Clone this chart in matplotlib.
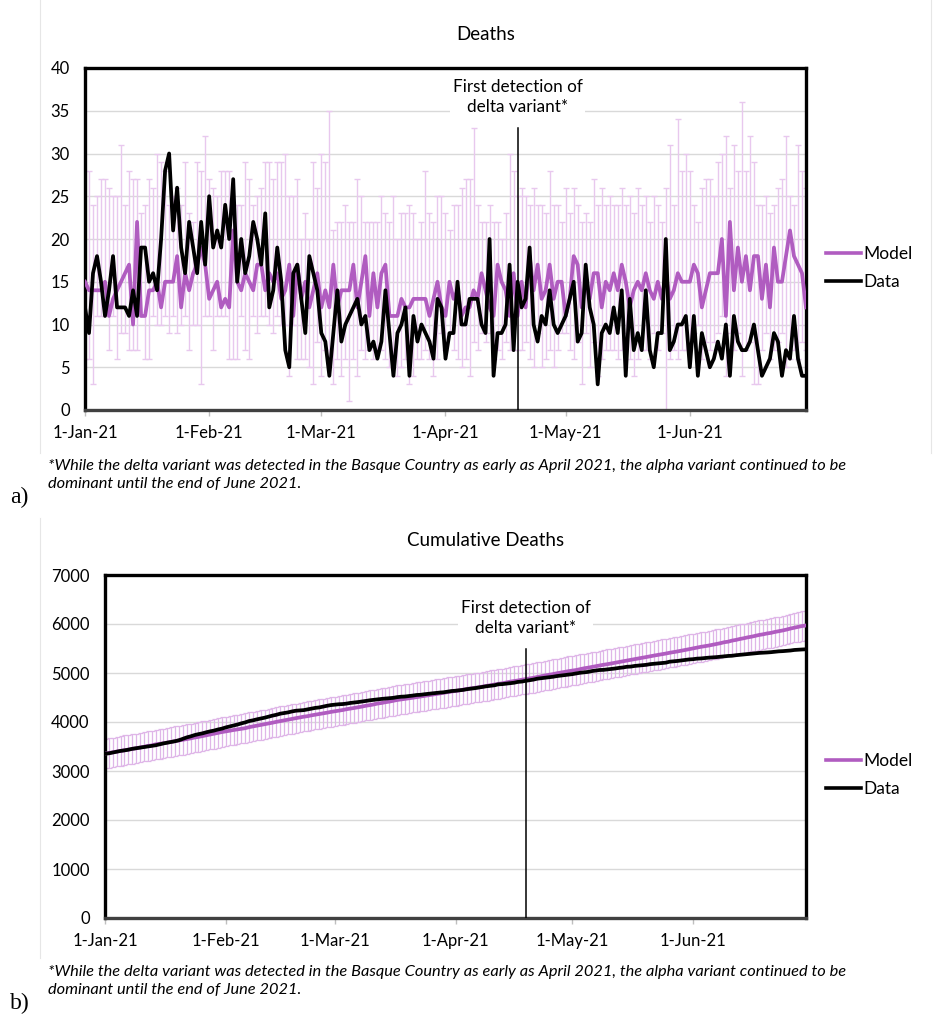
import numpy as np
import pandas as pd
import matplotlib
matplotlib.use("Agg")
import matplotlib.pyplot as plt
import matplotlib.dates as mdates
from matplotlib.lines import Line2D

plt.rcParams["font.family"] = ["Lato", "DejaVu Sans"]

# daily deaths, 1-Jan-21 .. 30-Jun-21
DATES = pd.date_range("2021-01-01", "2021-06-30", freq="D")

DATA = [
    12, 9, 16, 18, 15, 11, 14, 18, 12, 12,
    12, 11, 14, 11, 19, 19, 15, 16, 14, 20,
    28, 30, 21, 26, 19, 16, 22, 19, 16, 22,
    17, 25, 19, 21, 19, 24, 20, 27, 15, 20,
    16, 18, 22, 20, 17, 23, 12, 14, 19, 15,
    7, 5, 16, 17, 13, 9, 18, 16, 14, 9,
    8, 4, 9, 14, 8, 10, 11, 12, 13, 10,
    11, 7, 8, 6, 8, 14, 9, 4, 9, 10,
    12, 4, 11, 8, 10, 9, 8, 6, 13, 12,
    6, 9, 9, 15, 10, 10, 13, 13, 13, 10,
    9, 20, 4, 9, 9, 10, 17, 7, 15, 12,
    13, 19, 10, 8, 11, 10, 14, 10, 9, 10,
    11, 13, 15, 8, 9, 17, 12, 10, 3, 9,
    10, 9, 12, 9, 14, 4, 13, 7, 9, 7,
    14, 7, 5, 9, 9, 20, 7, 8, 10, 10,
    11, 5, 11, 4, 9, 7, 5, 6, 8, 6,
    10, 4, 11, 8, 7, 7, 8, 10, 7, 4,
    5, 6, 9, 8, 4, 7, 6, 11, 6, 4, 4,
]

MODEL = [
    15, 14, 14, 14, 14, 15, 11, 13, 14, 15,
    16, 17, 10, 22, 11, 11, 14, 14, 15, 12,
    15, 15, 15, 18, 12, 16, 14, 16, 17, 19,
    17, 13, 14, 15, 12, 13, 12, 21, 15, 14,
    16, 15, 14, 17, 17, 14, 16, 15, 16, 13,
    14, 17, 11, 17, 13, 15, 12, 14, 16, 12,
    14, 12, 17, 12, 14, 14, 14, 17, 12, 15,
    18, 11, 16, 12, 16, 17, 11, 11, 11, 13,
    12, 12, 13, 13, 13, 13, 11, 13, 15, 12,
    11, 15, 13, 14, 11, 12, 12, 14, 13, 16,
    14, 12, 11, 17, 15, 14, 11, 16, 11, 15,
    12, 18, 14, 17, 13, 14, 17, 13, 15, 15,
    11, 13, 18, 17, 12, 15, 13, 16, 16, 12,
    15, 14, 16, 14, 17, 15, 12, 14, 15, 14,
    16, 14, 13, 15, 13, 16, 13, 14, 16, 15,
    15, 15, 17, 16, 12, 14, 16, 16, 16, 20,
    11, 22, 14, 19, 15, 18, 14, 18, 18, 13,
    17, 12, 19, 15, 15, 18, 21, 18, 17, 16, 12,
]

MODEL_HI = [
    28, 28, 24, 25, 27, 27, 26, 25, 25, 31,
    24, 28, 27, 27, 23, 24, 27, 26, 30, 29,
    28, 24, 25, 26, 24, 29, 23, 22, 29, 28,
    32, 27, 26, 25, 28, 28, 28, 24, 24, 24,
    29, 27, 24, 25, 26, 29, 29, 27, 29, 29,
    30, 25, 25, 27, 20, 23, 20, 29, 26, 30,
    29, 35, 21, 22, 22, 24, 22, 22, 27, 25,
    22, 22, 22, 22, 25, 23, 22, 25, 20, 23,
    23, 24, 23, 20, 22, 28, 23, 22, 25, 25,
    23, 21, 24, 24, 26, 27, 27, 33, 24, 22,
    22, 24, 22, 22, 20, 23, 30, 28, 25, 26,
    25, 24, 26, 24, 24, 23, 28, 24, 24, 22,
    26, 23, 26, 24, 22, 23, 22, 27, 24, 26,
    24, 25, 24, 24, 26, 24, 25, 23, 26, 24,
    25, 22, 25, 24, 22, 26, 31, 24, 34, 28,
    30, 28, 24, 22, 26, 27, 27, 25, 29, 30,
    32, 26, 31, 28, 36, 28, 32, 29, 24, 24,
    25, 23, 24, 26, 27, 32, 25, 24, 31, 28, 26,
]

MODEL_LO = [
    6, 6, 3, 11, 11, 11, 7, 11, 6, 9,
    9, 7, 7, 7, 11, 6, 6, 11, 10, 10,
    11, 9, 11, 9, 10, 11, 7, 10, 10, 3,
    11, 11, 7, 11, 11, 11, 6, 6, 6, 11,
    7, 6, 11, 9, 11, 11, 10, 9, 11, 10,
    10, 4, 10, 6, 6, 6, 5, 3, 8, 4,
    7, 6, 3, 6, 4, 6, 1, 6, 4, 7,
    6, 7, 6, 7, 7, 6, 5, 6, 4, 5,
    6, 3, 4, 6, 6, 7, 6, 4, 6, 9,
    7, 9, 7, 6, 5, 6, 4, 8, 7, 9,
    8, 9, 6, 7, 6, 8, 7, 7, 7, 7,
    8, 6, 5, 9, 5, 6, 7, 5, 7, 9,
    9, 7, 6, 8, 3, 9, 5, 8, 4, 6,
    7, 7, 7, 6, 7, 9, 6, 4, 6, 7,
    7, 6, 9, 7, 9, 0, 6, 7, 6, 7,
    7, 8, 9, 10, 6, 8, 7, 8, 9, 11,
    4, 9, 7, 9, 4, 7, 8, 3, 3, 7,
    9, 6, 7, 8, 9, 5, 6, 7, 6, 8, 7,
]

# cumulative deaths recorded before 1-Jan-21, and half-width of cumulative bars
CUM_BEFORE = 3340
CUM_ERR = 300

DELTA_DATE = pd.Timestamp("2021-04-19")
MONTH_TICKS = pd.date_range("2021-01-01", "2021-06-01", freq="MS")
FOOTNOTE = ("*While the delta variant was detected in the Basque Country as early as April 2021, "
            "the alpha variant continued to be\ndominant until the end of June 2021.")

PURPLE = "#b05cc0"
LIGHT = "#e8c8ee"
LIGHT_CUM = "#dfb6e8"
GRID = "#d9d9d9"

W, H = 933, 1016
fig = plt.figure(figsize=(W / 100, H / 100), dpi=100)


def fx(px):
    return px / W


def fy(py):
    return 1 - py / H


def style_axes(ax, ymax, ystep):
    ax.set_ylim(0, ymax)
    ax.set_yticks(np.arange(0, ymax + 1, ystep))
    ax.set_xlim(DATES[0], DATES[-1])
    ax.set_xticks(MONTH_TICKS)
    ax.xaxis.set_major_formatter(mdates.DateFormatter("%-d-%b-%y"))
    ax.grid(axis="y", color=GRID, lw=1)
    ax.set_axisbelow(True)
    for s in ax.spines.values():
        s.set_linewidth(2.4)
        s.set_color("black")
    ax.spines["bottom"].set_color("#404040")
    ax.tick_params(axis="y", length=0, pad=11, labelsize=12)
    ax.tick_params(axis="x", length=4, width=1, color="#bfbfbf", pad=7, labelsize=12)


def add_delta(ax, top, text_y):
    ax.plot([DELTA_DATE, DELTA_DATE], [0, top], color="black", lw=1.1, zorder=5)
    ax.text(DELTA_DATE, text_y, "First detection of\ndelta variant*", ha="center",
            va="center", fontsize=12.3, linespacing=1.3, zorder=6,
            bbox=dict(facecolor="white", edgecolor="none", pad=2))


def add_legend(py):
    handles = [Line2D([], [], color=PURPLE, lw=2.6), Line2D([], [], color="black", lw=2.6)]
    fig.legend(handles, ["Model", "Data"], loc="center left",
               bbox_to_anchor=(fx(826), fy(py)), frameon=False, fontsize=12.5,
               handlelength=2.0, handletextpad=0.15, labelspacing=0.65,
               borderpad=0, borderaxespad=0)


model = np.array(MODEL)
data = np.array(DATA)

# (a) daily deaths
ax1 = fig.add_axes([fx(85), fy(410), fx(806) - fx(85), fy(68) - fy(410)])
ax1.errorbar(DATES, model, yerr=[model - np.array(MODEL_LO), np.array(MODEL_HI) - model],
             fmt="none", ecolor=LIGHT, elinewidth=1, capsize=2.2, capthick=1, zorder=2)
ax1.plot(DATES, model, color=PURPLE, lw=2.7, zorder=3)
ax1.plot(DATES, data, color="black", lw=2.7, zorder=4)
style_axes(ax1, 40, 5)
add_delta(ax1, 33, 36.6)
fig.text(fx(486), fy(35), "Deaths", ha="center", va="center", fontsize=13.5)
add_legend(268)
fig.text(fx(48), fy(475), FOOTNOTE, ha="left", va="center", fontsize=11.8,
         style="italic", linespacing=1.45)
fig.text(fx(10), fy(497), "a)", ha="left", va="center", fontsize=17,
         family="Liberation Serif")

# (b) cumulative deaths
cum_model = CUM_BEFORE + np.cumsum(model)
cum_data = CUM_BEFORE + np.cumsum(data)
ax2 = fig.add_axes([fx(105), fy(918), fx(806) - fx(105), fy(575) - fy(918)])
ax2.errorbar(DATES, cum_model, yerr=CUM_ERR, fmt="none", ecolor=LIGHT_CUM, elinewidth=0.9,
             capsize=1.8, capthick=0.9, zorder=2)
ax2.plot(DATES, cum_model, color=PURPLE, lw=2.7, zorder=3)
ax2.plot(DATES, cum_data, color="black", lw=2.7, zorder=4)
style_axes(ax2, 7000, 1000)
add_delta(ax2, 5500, 6130)
fig.text(fx(486), fy(541), "Cumulative Deaths", ha="center", va="center", fontsize=13.5)
add_legend(775)
fig.text(fx(48), fy(981), FOOTNOTE, ha="left", va="center", fontsize=11.8,
         style="italic", linespacing=1.45)
fig.text(fx(10), fy(1003), "b)", ha="left", va="center", fontsize=17,
         family="Liberation Serif")

# faint chart-area edges
for x0, y0, y1 in [(40, 0, 453), (931, 0, 453), (40, 518, 958)]:
    fig.add_artist(Line2D([fx(x0), fx(x0)], [fy(y0), fy(y1)], color="#e6e6e6", lw=0.8))

fig.savefig("out.png", dpi=100)
